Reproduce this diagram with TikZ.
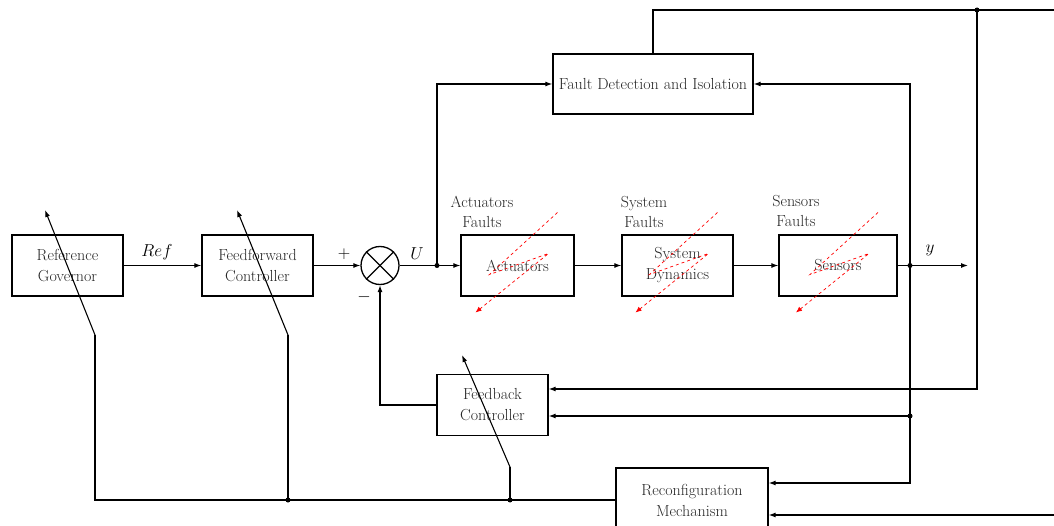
\documentclass[tikz,border=0pt]{standalone}
\usetikzlibrary{arrows.meta}

\begin{document}
\begin{tikzpicture}[x=1pt, y=-1pt, line width=1.1pt, >={Latex[length=7pt,width=5pt]},
	block/.style = {draw, line width=1.3pt, minimum width=111pt, minimum height=61pt, align=center, text=black!85, font=\fontsize{16}{21}\selectfont},
	sum/.style = {draw, circle, line width=1.3pt, minimum size=38pt, inner sep=0pt},
	lbl/.style = {align=center, text=black!85, font=\fontsize{16}{20}\selectfont},
	sig/.style = {font=\fontsize{18}{20}\selectfont},
	fault/.style = {red, dashed, line width=0.7pt, -{Latex[length=6pt,width=5pt]}}]
	\useasboundingbox (0,0) rectangle (1054,526);
	% blocks
	\node[block] (1) at (67.5,265.5) {Reference\\Governor};
	\node[block] (2) at (257.5,265.5) {Feedforward\\Controller};
	\node[sum] (3) at (380,265.5) {};
	\node[block, minimum width=113pt] (4) at (517.5,265.5) {Actuators};
	\node[block] (5) at (677.5,265.5) {System\\Dynamics};
	\node[block, minimum width=118pt] (6) at (838,265.5) {Sensors};
	\node[block, minimum width=200pt, minimum height=60pt] (7) at (653,84) {Fault Detection and Isolation};
	\node[block] (8) at (492.5,405) {Feedback\\Controller};
	\node[block, minimum width=152pt, minimum height=64pt] (9) at (692,500) {Reconfiguration\\Mechanism};
	\draw (3.north west) -- (3.south east);
	\draw (3.north east) -- (3.south west);
	% fault labels
	\node[lbl] (f4) at (482,212) {Actuators\\Faults};
	\node[lbl] (f5) at (644,212) {System\\Faults};
	\node[lbl] (f6) at (796,211) {Sensors\\Faults};
	\foreach \n in {4,5,6}
		\draw[fault, shift={(\n.center)}] (40,-53) -- (-28,9) -- (31,-12) -- (-42,47);
	% junctions
	\coordinate (u) at (437,265.5);
	\coordinate (yj) at (910,265.5);
	\coordinate (yout) at (968,265.5);
	\coordinate (fb) at (910,416);
	\coordinate (top) at (977,10);
	\coordinate (far) at (1060,10);
	\coordinate (g1) at (95,335);
	\coordinate (a1) at (45,210);
	\coordinate (g2) at (288,335);
	\coordinate (a2) at (237,210);
	\coordinate (g3) at (510,467);
	\coordinate (a3) at (462,355);
	\coordinate (b2) at (288,500);
	\coordinate (b3) at (510,500);
	% forward path
	\draw[->] (1) -- (2);
	\node[sig] at (157,252) {$Ref$};
	\draw[->] (2) -- (3);
	\node[sig] at (344,254) {$+$};
	\node[sig] at (364,297) {$-$};
	\draw (3) -- (u);
	\draw[->] (u) -- (4);
	\node[sig] at (417,254) {$U$};
	\draw[->] (4) -- (5);
	\draw[->] (5) -- (6);
	\draw (6) -- (yj);
	\draw[->] (yj) -- (yout);
	\node[sig] at (930,250) {$y$};
	% FDI and feedback
	\draw[->] (u) |- (7);
	\draw[->] (yj) |- (7);
	\draw[->] (yj) |- ([yshift=17pt]9.east);
	\draw[->] (fb) -- (fb -| 8.east);
	\draw (7.north) |- (top);
	\draw[->] (top) -- (far) |- ([yshift=-15pt]9.east);
	\draw[->] (top) |- ([yshift=16pt]8.east);
	\draw[->] (8) -| (3);
	% reconfiguration
	\draw (g1) |- (9);
	\draw[->] (g1) -- (a1);
	\draw (g2) -- (b2);
	\draw[->] (g2) -- (a2);
	\draw (g3) -- (b3);
	\draw[->] (g3) -- (a3);
	\foreach \p in {u, yj, fb, top, b2, b3}
		\fill (\p) circle (2.5pt);
\end{tikzpicture}
\end{document}
